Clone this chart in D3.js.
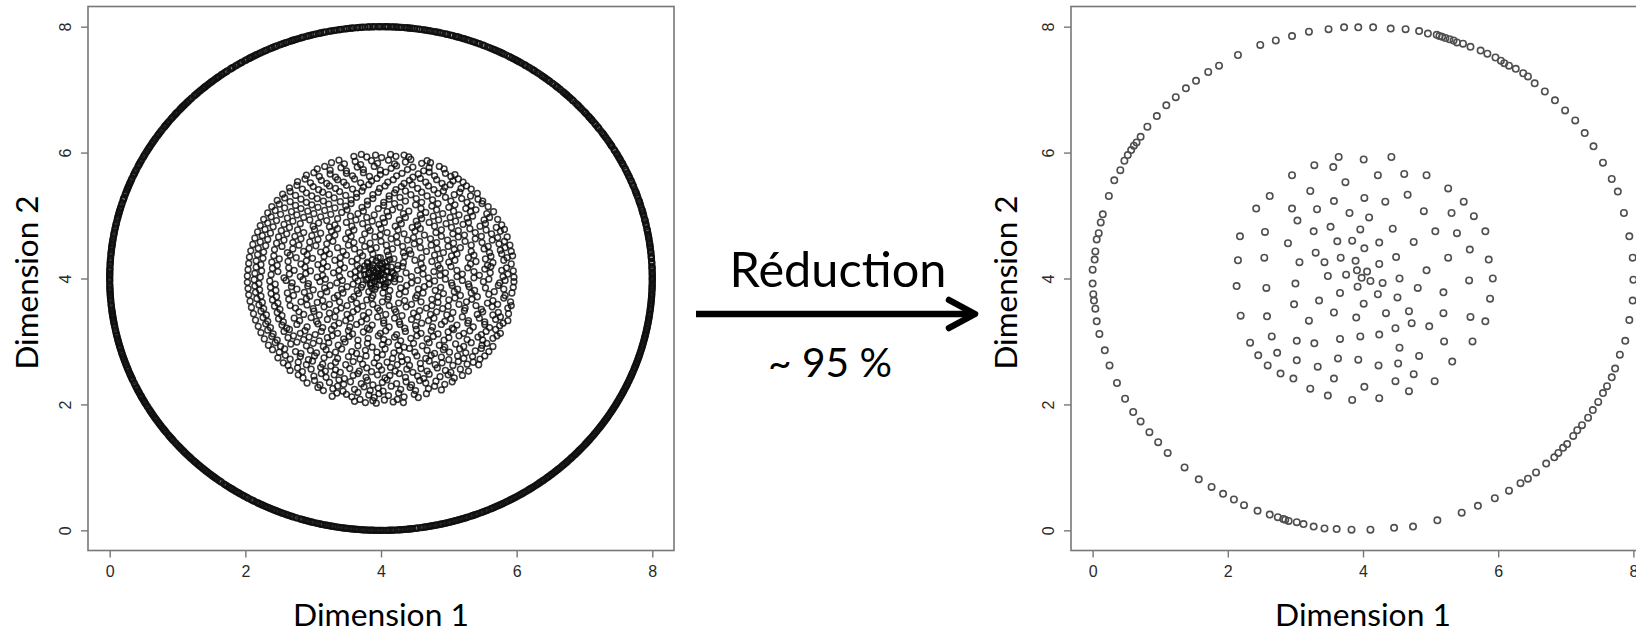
<!DOCTYPE html>
<html>
<head>
<meta charset="utf-8">
<script src="https://cdn.jsdelivr.net/npm/d3@7"></script>
<style>
  html, body { margin: 0; padding: 0; background: #fff; }
  svg { display: block; }
</style>
</head>
<body>
<svg id="chart" width="1636" height="633"></svg>
<script>
// ---- labels and ticks ----
const tickValues = [0, 2, 4, 6, 8];
const xTitle = "Dimension 1";
const yTitle = "Dimension 2";
const arrowLabel = "Réduction";
const rateLabel = "~ 95 %";

// ---- full sample, outer ring: angle (degrees) of each point on the circle ----
const ringCentre = [4, 4];
const ringRadius = 4;
const fullRingAngles = [
  0.2,0.6,1.5,2.3,2.7,3.6,4.5,4.9,5.8,6.3,7.4,8.0,8.4,9.5,
  10.1,10.9,11.3,12.4,13.2,13.6,14.7,15.3,15.8,16.9,17.6,18.0,19.1,19.8,
  20.3,21.4,21.9,22.8,23.5,24.1,25.2,25.7,26.5,27.4,27.9,28.9,29.6,
  30.4,30.9,32.0,32.6,33.1,34.2,34.9,35.4,36.5,37.0,37.8,38.7,39.2,
  40.1,41.0,41.5,42.4,43.2,43.7,44.8,45.3,46.1,47.0,47.6,48.5,49.3,49.8,
  50.7,51.5,52.0,53.1,53.6,54.5,55.4,55.9,56.8,57.6,58.1,59.0,59.7,
  60.5,61.2,61.8,62.9,63.5,64.1,65.2,65.8,66.5,67.5,68.0,68.9,69.7,
  70.3,71.2,71.9,72.5,73.6,74.1,74.9,75.8,76.3,77.3,78.0,78.6,79.5,
  80.2,80.8,81.9,82.4,83.2,84.1,84.7,85.6,86.3,86.9,87.9,88.4,89.2,
  90.1,90.6,91.6,92.3,92.8,93.9,94.5,95.1,96.1,96.7,97.4,98.4,98.9,99.8,
  100.5,101.1,102.1,102.8,103.3,104.3,105.0,105.6,106.6,107.1,107.9,108.9,109.4,
  110.3,111.0,111.6,112.6,113.2,113.9,114.8,115.4,116.3,117.0,117.6,118.6,119.1,119.9,
  120.8,121.3,122.2,123.0,123.5,124.5,125.1,125.9,126.8,127.3,128.3,128.9,129.6,
  130.5,131.0,132.0,132.7,133.3,134.2,134.9,135.5,136.5,137.0,137.9,138.7,139.2,
  140.2,140.8,141.6,142.5,143.0,144.0,144.7,145.3,146.2,146.9,147.5,148.5,149.1,149.8,
  150.7,151.3,152.2,152.9,153.4,154.4,155.1,155.7,156.6,157.3,157.9,158.9,159.5,
  160.3,161.2,161.7,162.6,163.4,164.0,164.9,165.6,166.2,167.2,167.8,168.5,169.4,
  170.0,170.9,171.6,172.1,173.1,173.8,174.4,175.4,176.0,176.7,177.6,178.2,179.1,179.8,
  180.4,181.3,182.0,182.6,183.6,184.2,184.9,185.8,186.4,187.2,188.1,188.6,189.6,
  190.2,190.9,191.8,192.5,193.1,194.1,194.7,195.4,196.3,197.0,197.6,198.6,199.2,199.9,
  200.8,201.4,202.2,203.1,203.6,204.5,205.3,205.9,206.8,207.5,208.0,209.0,209.6,
  210.4,211.2,211.8,212.7,213.4,214.0,215.0,215.6,216.3,217.2,217.8,218.6,219.5,
  220.1,221.0,221.7,222.3,223.3,223.9,224.6,225.5,226.2,226.8,227.8,228.4,229.1,
  230.0,230.7,231.4,232.3,232.9,233.7,234.6,235.2,235.9,236.8,237.5,238.1,239.1,239.7,
  240.4,241.3,241.9,242.7,243.6,244.2,244.9,245.8,246.5,247.1,248.0,248.7,249.4,
  250.3,250.9,251.7,252.6,253.2,253.9,254.8,255.4,256.2,257.1,257.7,258.4,259.3,259.9,
  260.8,261.5,262.1,263.0,263.7,264.3,265.2,265.9,266.5,267.5,268.1,268.8,269.7,
  270.3,271.1,272.0,272.6,273.4,274.3,274.9,275.6,276.5,277.2,277.8,278.7,279.4,
  280.1,281.0,281.6,282.4,283.3,283.9,284.6,285.6,286.2,286.9,287.8,288.4,289.2,
  290.1,290.7,291.5,292.4,293.0,293.8,294.7,295.3,296.0,296.9,297.6,298.3,299.2,299.8,
  300.6,301.5,302.1,302.9,303.8,304.4,305.1,306.0,306.7,307.4,308.3,308.9,309.6,
  310.5,311.1,311.9,312.8,313.4,314.1,315.0,315.7,316.4,317.3,317.9,318.7,319.6,
  320.2,320.9,321.8,322.5,323.2,324.1,324.7,325.4,326.3,327.0,327.7,328.6,329.2,329.9,
  330.8,331.5,332.2,333.1,333.7,334.4,335.3,336.0,336.7,337.6,338.2,339.0,339.9,
  340.5,341.2,342.1,342.8,343.5,344.4,345.0,345.8,346.7,347.3,348.0,348.9,349.6,
  350.3,351.2,351.8,352.6,353.5,354.2,354.9,355.8,356.4,357.2,358.1,358.7,359.5,
  0.0,0.9,1.2,1.9,2.5,3.3,3.9,4.7,5.2,6.0,6.8,7.1,7.8,8.9,9.2,9.8,
  10.5,11.1,11.9,12.7,13.4,14.2,15.0,15.6,16.3,17.2,17.8,18.6,19.4,
  20.0,20.8,21.6,22.3,22.9,23.8,24.5,24.8,25.9,26.9,27.2,28.2,28.6,29.3,29.9,
  30.6,31.6,31.8,32.3,33.4,33.9,34.6,35.2,35.9,36.8,37.5,38.2,39.0,39.6,39.9,
  40.6,41.2,41.9,42.8,43.4,44.2,45.0,45.8,46.5,46.8,47.3,47.9,48.8,49.5,
  50.2,50.9,51.7,52.4,52.8,53.4,54.0,54.9,55.7,56.3,57.2,57.9,58.7,59.4,59.9,
  60.2,60.9,61.6,62.3,63.2,63.8,64.5,64.9,65.5,66.2,67.0,67.8,68.6,69.3,
  70.0,70.8,71.5,72.2,72.9,73.3,73.9,74.6,75.3,76.0,76.8,77.6,78.3,79.0,79.8,
  80.5,81.2,81.7,82.8,83.5,83.9,84.4,85.0,85.9,86.6,87.3,87.6,88.7,89.0,89.7,
  90.4,91.2,91.9,92.6,93.4,94.2,94.9,95.8,96.4,97.1,97.9,98.7,99.4,
  100.1,100.8,101.7,102.4,103.0,103.8,104.6,105.3,106.0,106.9,107.5,108.3,108.6,109.1,109.8,
  110.6,111.3,112.0,112.9,113.6,114.3,115.1,115.8,116.6,117.3,117.9,118.3,118.9,119.5,
  120.2,121.0,121.7,122.5,123.2,123.8,124.7,125.4,126.1,126.6,127.0,127.6,128.0,128.6,129.2,129.9,
  130.3,130.7,131.3,131.7,132.4,133.0,133.6,134.5,135.2,135.8,136.2,136.8,137.3,137.6,138.4,139.0,139.5,139.9,
  140.5,141.3,141.9,142.2,142.8,143.5,144.3,145.0,145.7,146.5,147.2,147.8,148.2,148.8,149.5,
  150.3,151.0,151.8,152.5,153.1,153.8,154.7,155.4,156.0,156.9,157.6,158.3,158.6,159.2,159.9,
  160.6,161.4,162.0,162.9,163.7,164.3,164.6,165.2,165.9,166.6,167.5,168.2,168.9,169.7,
  170.4,171.2,171.9,172.5,172.7,173.4,174.1,174.8,175.7,176.3,177.0,177.9,178.5,178.9,179.4,
  180.1,180.7,181.6,182.3,182.9,183.3,183.9,184.5,185.2,186.1,186.8,187.5,187.8,188.3,188.9,189.3,189.9,
  190.5,191.2,192.0,192.8,193.4,193.8,194.4,195.0,195.7,196.0,196.7,197.3,198.0,198.3,198.9,199.5,
  200.1,200.5,201.1,201.8,202.5,202.8,203.4,203.9,204.8,205.6,206.2,206.5,207.1,207.8,208.3,208.7,209.3,209.9,
  210.7,211.5,212.1,212.4,213.0,213.7,214.3,214.7,215.3,215.9,216.6,216.9,217.5,218.3,218.9,219.2,219.8,
  220.6,221.4,222.0,222.6,223.0,223.6,224.3,224.9,225.2,225.8,226.5,227.1,227.5,228.1,228.8,229.4,229.7,
  230.3,231.1,231.7,232.0,232.6,233.3,234.0,234.9,235.5,236.2,236.5,237.1,237.8,238.4,238.7,239.4,
  240.0,240.7,241.6,242.2,243.0,243.3,243.9,244.6,245.2,245.5,246.1,246.8,247.4,247.7,248.4,249.0,249.7,
  250.0,250.6,251.2,252.0,252.9,253.5,254.2,254.5,255.1,255.7,256.5,256.9,257.4,258.1,258.7,259.0,259.6,
  260.1,260.5,261.2,261.8,262.4,262.7,263.4,264.0,264.6,264.9,265.6,266.2,266.8,267.2,267.8,268.4,269.1,269.4,269.9,
  270.6,271.4,271.7,272.3,272.9,273.7,274.0,274.6,275.3,275.9,276.2,276.8,277.5,278.4,279.1,279.7,
  280.4,280.7,281.3,281.9,282.7,283.0,283.6,284.3,284.9,285.3,285.9,286.5,287.2,287.5,288.1,288.7,289.5,289.8,
  290.4,291.0,291.8,292.1,292.7,293.3,294.1,294.4,295.0,295.7,296.3,296.6,297.3,297.9,298.6,298.9,299.5,
  300.2,300.9,301.2,301.8,302.5,303.2,303.5,304.1,304.8,305.4,305.7,306.4,307.0,307.7,308.0,308.6,309.2,309.9,
  310.2,310.8,311.5,312.2,312.5,313.1,313.7,314.4,314.7,315.4,316.0,316.7,317.0,317.6,318.3,319.0,319.3,319.9,
  320.5,321.2,321.5,322.1,322.8,323.5,323.8,324.4,325.0,325.7,326.0,326.6,327.3,328.0,328.3,328.9,329.6,
  330.2,330.5,331.1,331.8,332.5,332.8,333.4,334.1,334.7,335.0,335.6,336.3,337.0,337.3,337.9,338.6,339.3,339.6,
  340.2,340.8,341.5,341.8,342.4,343.1,343.8,344.1,344.7,345.4,346.1,346.4,347.0,347.6,348.3,348.6,349.2,349.9,
  350.6,350.9,351.5,352.1,352.9,353.2,353.8,354.5,355.2,355.5,356.1,356.7,357.5,357.8,358.4,359.1,359.8
];

// ---- full sample, inner disc: [dimension 1, dimension 2] ----
const fullDisc = [
  [3.61,2.05],[3.69,2.08],[3.77,2.03],[3.88,2.06],[3.93,2.02],[4.05,2.07],[4.18,2.04],[4.24,2.08],[4.33,2.03],
  [3.28,2.13],[3.35,2.18],[3.49,2.16],[3.57,2.12],[3.66,2.19],[3.82,2.15],[3.90,2.11],[3.97,2.17],[4.11,2.14],[4.26,2.18],[4.34,2.12],[4.49,2.16],[4.55,2.11],[4.67,2.17],
  [3.07,2.27],[3.15,2.22],[3.29,2.25],[3.36,2.29],[3.44,2.21],[3.61,2.24],[3.75,2.28],[3.84,2.22],[3.96,2.26],[4.03,2.21],[4.15,2.29],[4.29,2.24],[4.43,2.27],[4.51,2.22],[4.70,2.25],[4.79,2.29],[4.89,2.23],
  [2.91,2.34],[3.02,2.38],[3.10,2.31],[3.24,2.35],[3.38,2.39],[3.45,2.32],[3.55,2.36],[3.71,2.33],[3.80,2.38],[3.88,2.31],[4.02,2.35],[4.09,2.39],[4.23,2.33],[4.37,2.36],[4.45,2.31],[4.57,2.38],[4.66,2.34],[4.81,2.37],[4.94,2.32],[5.05,2.36],
  [2.78,2.47],[2.85,2.42],[3.01,2.45],[3.12,2.49],[3.19,2.43],[3.31,2.47],[3.46,2.41],[3.59,2.46],[3.66,2.49],[3.78,2.43],[3.95,2.47],[4.06,2.42],[4.13,2.46],[4.27,2.49],[4.36,2.43],[4.54,2.45],[4.63,2.41],[4.71,2.48],[4.87,2.44],[4.99,2.47],[5.08,2.42],[5.20,2.46],
  [2.66,2.54],[2.77,2.58],[2.84,2.52],[2.97,2.56],[3.11,2.59],[3.18,2.53],[3.33,2.55],[3.40,2.51],[3.54,2.57],[3.68,2.53],[3.79,2.58],[3.86,2.52],[4.01,2.55],[4.14,2.59],[4.21,2.53],[4.38,2.56],[4.47,2.51],[4.59,2.57],[4.68,2.53],[4.83,2.58],[4.95,2.54],[5.03,2.51],[5.17,2.56],[5.29,2.53],
  [2.56,2.66],[2.63,2.62],[2.78,2.67],[2.90,2.63],[2.99,2.69],[3.14,2.64],[3.26,2.61],[3.33,2.67],[3.48,2.63],[3.59,2.68],[3.73,2.64],[3.90,2.66],[3.97,2.61],[4.09,2.67],[4.24,2.63],[4.31,2.68],[4.42,2.62],[4.58,2.65],[4.71,2.69],[4.80,2.63],[4.90,2.66],[5.06,2.62],[5.14,2.68],[5.27,2.64],[5.36,2.67],[5.44,2.63],
  [2.48,2.74],[2.59,2.78],[2.66,2.72],[2.81,2.76],[2.93,2.71],[3.02,2.77],[3.16,2.74],[3.24,2.79],[3.36,2.73],[3.52,2.76],[3.69,2.72],[3.78,2.77],[3.94,2.74],[4.02,2.79],[4.17,2.73],[4.30,2.76],[4.39,2.71],[4.53,2.77],[4.66,2.73],[4.74,2.78],[4.89,2.75],[5.00,2.71],[5.13,2.77],[5.22,2.73],[5.35,2.76],[5.46,2.72],[5.53,2.77],
  [2.40,2.87],[2.50,2.83],[2.58,2.88],[2.74,2.84],[2.82,2.81],[2.96,2.86],[3.05,2.82],[3.19,2.87],[3.33,2.83],[3.42,2.88],[3.57,2.84],[3.64,2.81],[3.77,2.86],[3.94,2.83],[4.06,2.88],[4.19,2.82],[4.27,2.86],[4.42,2.89],[4.50,2.83],[4.68,2.86],[4.79,2.81],[4.92,2.87],[5.01,2.83],[5.16,2.88],[5.25,2.82],[5.39,2.85],[5.48,2.89],[5.59,2.84],
  [2.34,2.94],[2.44,2.98],[2.52,2.92],[2.67,2.96],[2.76,2.99],[2.90,2.93],[3.00,2.97],[3.15,2.92],[3.23,2.98],[3.37,2.94],[3.47,2.99],[3.66,2.93],[3.80,2.97],[3.87,2.91],[4.02,2.95],[4.11,2.99],[4.25,2.94],[4.34,2.91],[4.48,2.97],[4.61,2.93],[4.71,2.98],[4.86,2.94],[4.94,2.91],[5.10,2.96],[5.22,2.92],[5.33,2.98],[5.49,2.94],[5.56,2.97],[5.65,2.92],
  [2.28,3.04],[2.39,3.08],[2.47,3.02],[2.63,3.06],[2.71,3.09],[2.86,3.03],[2.94,3.07],[3.09,3.01],[3.21,3.06],[3.28,3.09],[3.45,3.04],[3.53,3.08],[3.66,3.02],[3.81,3.05],[3.96,3.09],[4.04,3.03],[4.20,3.07],[4.29,3.01],[4.44,3.05],[4.53,3.09],[4.68,3.04],[4.77,3.08],[4.93,3.02],[5.00,3.06],[5.15,3.09],[5.27,3.03],[5.43,3.07],[5.50,3.02],[5.65,3.05],[5.71,3.09],
  [2.23,3.14],[2.33,3.18],[2.41,3.12],[2.57,3.16],[2.65,3.19],[2.81,3.13],[2.88,3.17],[3.03,3.11],[3.12,3.16],[3.27,3.19],[3.36,3.13],[3.52,3.17],[3.58,3.12],[3.74,3.15],[3.83,3.19],[3.99,3.13],[4.07,3.17],[4.23,3.11],[4.36,3.16],[4.52,3.19],[4.59,3.13],[4.74,3.17],[4.84,3.12],[4.99,3.15],[5.07,3.19],[5.22,3.13],[5.31,3.17],[5.48,3.11],[5.55,3.16],[5.69,3.19],[5.76,3.13],
  [2.19,3.24],[2.30,3.28],[2.37,3.22],[2.54,3.26],[2.61,3.21],[2.76,3.27],[2.91,3.23],[3.07,3.28],[3.14,3.22],[3.31,3.25],[3.38,3.29],[3.54,3.23],[3.64,3.27],[3.80,3.21],[3.87,3.26],[4.04,3.29],[4.12,3.23],[4.28,3.27],[4.35,3.21],[4.51,3.25],[4.60,3.29],[4.76,3.23],[4.89,3.27],[5.05,3.21],[5.12,3.26],[5.28,3.29],[5.36,3.23],[5.53,3.27],[5.60,3.22],[5.75,3.25],[5.80,3.29],
  [2.15,3.34],[2.26,3.38],[2.33,3.32],[2.49,3.36],[2.56,3.31],[2.72,3.37],[2.80,3.33],[2.97,3.38],[3.05,3.32],[3.21,3.35],[3.32,3.39],[3.48,3.33],[3.55,3.37],[3.71,3.31],[3.79,3.36],[3.95,3.39],[4.04,3.33],[4.20,3.37],[4.27,3.31],[4.45,3.35],[4.54,3.39],[4.70,3.33],[4.78,3.37],[4.94,3.32],[5.03,3.36],[5.20,3.39],[5.29,3.33],[5.45,3.37],[5.53,3.31],[5.69,3.35],[5.76,3.39],[5.87,3.33],
  [2.12,3.44],[2.23,3.48],[2.31,3.42],[2.47,3.46],[2.54,3.41],[2.79,3.47],[2.86,3.43],[3.01,3.48],[3.09,3.42],[3.24,3.45],[3.34,3.49],[3.50,3.43],[3.59,3.47],[3.74,3.41],[3.82,3.46],[3.98,3.49],[4.07,3.43],[4.22,3.47],[4.31,3.41],[4.48,3.45],[4.57,3.49],[4.73,3.43],[4.82,3.47],[4.97,3.42],[5.06,3.46],[5.23,3.49],[5.42,3.43],[5.50,3.47],[5.65,3.42],[5.73,3.46],[5.88,3.44],
  [2.09,3.54],[2.20,3.58],[2.27,3.52],[2.43,3.56],[2.51,3.51],[2.66,3.57],[2.74,3.53],[2.91,3.58],[3.00,3.52],[3.16,3.55],[3.24,3.59],[3.41,3.53],[3.50,3.57],[3.65,3.51],[3.73,3.56],[3.88,3.59],[3.95,3.53],[4.12,3.57],[4.20,3.51],[4.37,3.55],[4.45,3.59],[4.67,3.53],[4.75,3.57],[4.91,3.52],[4.99,3.56],[5.15,3.59],[5.24,3.53],[5.40,3.57],[5.48,3.51],[5.64,3.55],[5.72,3.59],[5.87,3.53],[5.92,3.57],
  [2.07,3.64],[2.17,3.68],[2.25,3.62],[2.40,3.66],[2.48,3.61],[2.64,3.67],[2.82,3.63],[2.90,3.68],[3.06,3.62],[3.14,3.65],[3.31,3.69],[3.39,3.63],[3.56,3.67],[3.64,3.61],[3.79,3.66],[3.86,3.69],[4.02,3.63],[4.10,3.67],[4.26,3.61],[4.35,3.65],[4.51,3.69],[4.59,3.63],[4.75,3.67],[4.84,3.62],[5.00,3.66],[5.09,3.69],[5.26,3.63],[5.34,3.67],[5.57,3.61],[5.65,3.65],[5.81,3.69],[5.91,3.63],
  [2.05,3.74],[2.15,3.78],[2.23,3.72],[2.38,3.76],[2.46,3.71],[2.62,3.77],[2.71,3.73],[2.87,3.78],[2.95,3.72],[3.11,3.75],[3.20,3.79],[3.36,3.73],[3.44,3.77],[3.60,3.71],[3.67,3.76],[3.82,3.79],[3.88,3.73],[4.03,3.77],[4.11,3.71],[4.27,3.75],[4.36,3.79],[4.53,3.73],[4.62,3.77],[4.84,3.71],[4.92,3.76],[5.08,3.79],[5.17,3.73],[5.33,3.77],[5.42,3.71],[5.59,3.75],[5.67,3.79],[5.83,3.73],[5.93,3.77],
  [2.04,3.84],[2.14,3.88],[2.21,3.82],[2.37,3.86],[2.45,3.81],[2.68,3.87],[2.76,3.83],[2.92,3.88],[3.00,3.82],[3.17,3.85],[3.25,3.89],[3.42,3.83],[3.50,3.87],[3.65,3.81],[3.71,3.86],[3.85,3.89],[3.91,3.83],[4.06,3.87],[4.13,3.81],[4.29,3.85],[4.38,3.89],[4.55,3.83],[4.64,3.87],[4.80,3.81],[4.88,3.86],[5.05,3.89],[5.13,3.83],[5.30,3.87],[5.38,3.81],[5.54,3.85],[5.73,3.89],[5.81,3.83],[5.95,3.86],
  [2.03,3.94],[2.13,3.98],[2.20,3.92],[2.36,3.96],[2.44,3.91],[2.60,3.97],[2.69,3.93],[2.85,3.98],[2.93,3.92],[3.10,3.95],[3.18,3.99],[3.35,3.93],[3.43,3.97],[3.59,3.91],[3.66,3.96],[3.80,3.99],[3.86,3.93],[3.99,3.97],[4.05,3.91],[4.20,3.95],[4.28,3.99],[4.45,3.93],[4.54,3.97],[4.71,3.91],[4.79,3.96],[4.95,3.99],[5.04,3.93],[5.20,3.97],[5.29,3.91],[5.51,3.95],[5.59,3.99],[5.75,3.93],[5.83,3.97],[5.96,3.95],
  [2.03,4.04],[2.14,4.08],[2.22,4.02],[2.38,4.06],[2.57,4.01],[2.65,4.07],[2.81,4.03],[2.89,4.08],[3.06,4.02],[3.14,4.05],[3.30,4.09],[3.39,4.03],[3.55,4.07],[3.62,4.01],[3.76,4.06],[3.82,4.09],[3.95,4.03],[4.00,4.07],[4.14,4.01],[4.21,4.05],[4.37,4.09],[4.45,4.03],[4.62,4.07],[4.70,4.01],[4.87,4.05],[4.95,4.09],[5.12,4.03],[5.20,4.07],[5.37,4.01],[5.45,4.05],[5.61,4.09],[5.80,4.03],[5.87,4.07],[5.96,4.02],
  [2.04,4.14],[2.16,4.18],[2.24,4.12],[2.40,4.16],[2.48,4.11],[2.64,4.17],[2.72,4.13],[2.88,4.18],[2.96,4.12],[3.13,4.15],[3.21,4.19],[3.38,4.13],[3.46,4.17],[3.62,4.11],[3.69,4.16],[3.83,4.19],[3.89,4.13],[4.03,4.17],[4.09,4.11],[4.24,4.15],[4.32,4.19],[4.54,4.13],[4.62,4.17],[4.78,4.11],[4.87,4.16],[5.03,4.19],[5.12,4.13],[5.28,4.17],[5.37,4.11],[5.53,4.15],[5.62,4.19],[5.78,4.13],[5.85,4.17],[5.95,4.12],
  [2.05,4.24],[2.16,4.28],[2.23,4.22],[2.39,4.26],[2.47,4.21],[2.63,4.27],[2.82,4.23],[2.90,4.28],[3.07,4.22],[3.15,4.25],[3.32,4.29],[3.40,4.23],[3.57,4.27],[3.65,4.21],[3.80,4.26],[3.87,4.29],[4.02,4.23],[4.09,4.27],[4.25,4.21],[4.33,4.25],[4.50,4.29],[4.59,4.23],[4.75,4.27],[4.84,4.21],[5.00,4.26],[5.09,4.29],[5.32,4.23],[5.40,4.27],[5.57,4.21],[5.65,4.25],[5.81,4.29],[5.92,4.23],
  [2.06,4.34],[2.18,4.38],[2.26,4.32],[2.42,4.36],[2.50,4.31],[2.66,4.37],[2.75,4.33],[2.91,4.38],[2.99,4.32],[3.16,4.35],[3.24,4.39],[3.40,4.33],[3.49,4.37],[3.65,4.31],[3.73,4.36],[3.88,4.39],[3.96,4.33],[4.11,4.37],[4.19,4.31],[4.35,4.35],[4.44,4.39],[4.60,4.33],[4.79,4.37],[4.87,4.31],[5.04,4.36],[5.12,4.39],[5.29,4.33],[5.37,4.37],[5.54,4.31],[5.62,4.35],[5.78,4.39],[5.86,4.33],[5.94,4.36],
  [2.08,4.44],[2.19,4.48],[2.27,4.42],[2.43,4.46],[2.62,4.41],[2.70,4.47],[2.86,4.43],[2.94,4.48],[3.11,4.42],[3.19,4.45],[3.36,4.49],[3.44,4.43],[3.61,4.47],[3.69,4.41],[3.85,4.46],[3.93,4.49],[4.09,4.43],[4.17,4.47],[4.33,4.41],[4.42,4.45],[4.58,4.49],[4.67,4.43],[4.83,4.47],[4.92,4.41],[5.08,4.46],[5.17,4.49],[5.33,4.43],[5.52,4.47],[5.60,4.41],[5.76,4.45],[5.83,4.49],[5.92,4.43],
  [2.11,4.54],[2.22,4.58],[2.30,4.52],[2.46,4.56],[2.54,4.51],[2.70,4.57],[2.79,4.53],[2.95,4.58],[3.04,4.52],[3.20,4.55],[3.29,4.59],[3.52,4.53],[3.60,4.57],[3.76,4.51],[3.84,4.56],[4.00,4.59],[4.08,4.53],[4.24,4.57],[4.32,4.51],[4.49,4.55],[4.57,4.59],[4.74,4.53],[4.82,4.57],[4.99,4.51],[5.07,4.56],[5.24,4.59],[5.33,4.53],[5.49,4.57],[5.58,4.51],[5.74,4.55],[5.82,4.59],[5.90,4.53],
  [2.14,4.64],[2.25,4.68],[2.33,4.62],[2.49,4.66],[2.57,4.61],[2.73,4.67],[2.82,4.63],[2.98,4.68],[3.07,4.62],[3.23,4.65],[3.32,4.69],[3.48,4.63],[3.56,4.67],[3.72,4.61],[3.91,4.66],[3.99,4.69],[4.15,4.63],[4.23,4.67],[4.39,4.61],[4.48,4.65],[4.64,4.69],[4.73,4.63],[4.89,4.67],[4.98,4.61],[5.14,4.66],[5.23,4.69],[5.39,4.63],[5.48,4.67],[5.64,4.61],[5.72,4.65],[5.86,4.66],
  [2.18,4.74],[2.29,4.78],[2.37,4.72],[2.53,4.76],[2.61,4.71],[2.77,4.77],[2.86,4.73],[3.02,4.78],[3.11,4.72],[3.27,4.75],[3.36,4.79],[3.52,4.73],[3.60,4.77],[3.76,4.71],[3.84,4.76],[4.00,4.79],[4.09,4.73],[4.25,4.77],[4.34,4.71],[4.50,4.75],[4.58,4.79],[4.81,4.73],[4.89,4.77],[5.06,4.71],[5.14,4.76],[5.31,4.79],[5.39,4.73],[5.55,4.77],[5.63,4.71],[5.76,4.75],[5.82,4.78],
  [2.22,4.84],[2.33,4.88],[2.41,4.82],[2.57,4.86],[2.65,4.81],[2.81,4.87],[3.00,4.83],[3.08,4.88],[3.24,4.82],[3.32,4.85],[3.49,4.89],[3.57,4.83],[3.73,4.87],[3.81,4.81],[3.97,4.86],[4.05,4.89],[4.21,4.83],[4.30,4.87],[4.46,4.81],[4.54,4.85],[4.71,4.89],[4.79,4.83],[4.96,4.87],[5.04,4.81],[5.21,4.86],[5.29,4.89],[5.46,4.83],[5.54,4.87],[5.70,4.81],[5.78,4.85],
  [2.27,4.94],[2.38,4.98],[2.46,4.92],[2.62,4.96],[2.70,4.91],[2.86,4.97],[2.95,4.93],[3.11,4.98],[3.20,4.92],[3.36,4.95],[3.55,4.99],[3.63,4.93],[3.79,4.97],[3.87,4.91],[4.03,4.96],[4.11,4.99],[4.27,4.93],[4.36,4.97],[4.52,4.91],[4.60,4.95],[4.77,4.99],[4.85,4.93],[5.02,4.97],[5.10,4.91],[5.27,4.96],[5.35,4.99],[5.52,4.93],[5.60,4.97],[5.72,4.94],
  [2.33,5.04],[2.44,5.08],[2.52,5.02],[2.68,5.06],[2.76,5.01],[2.92,5.07],[3.01,5.03],[3.17,5.08],[3.26,5.02],[3.42,5.05],[3.50,5.09],[3.66,5.03],[3.74,5.07],[3.90,5.01],[4.09,5.06],[4.17,5.09],[4.33,5.03],[4.41,5.07],[4.58,5.01],[4.66,5.05],[4.82,5.09],[4.91,5.03],[5.07,5.07],[5.15,5.01],[5.32,5.06],[5.40,5.09],[5.56,5.03],[5.66,5.06],
  [2.39,5.14],[2.50,5.18],[2.58,5.12],[2.74,5.16],[2.82,5.11],[2.98,5.17],[3.07,5.13],[3.23,5.18],[3.32,5.12],[3.48,5.15],[3.56,5.19],[3.72,5.13],[3.80,5.17],[3.96,5.11],[4.04,5.16],[4.20,5.19],[4.28,5.13],[4.51,5.17],[4.59,5.11],[4.75,5.15],[4.84,5.19],[5.00,5.13],[5.09,5.17],[5.25,5.11],[5.33,5.16],[5.49,5.19],[5.58,5.14],
  [2.47,5.24],[2.58,5.28],[2.66,5.22],[2.82,5.26],[2.90,5.21],[3.06,5.27],[3.15,5.23],[3.31,5.28],[3.40,5.22],[3.56,5.25],[3.64,5.29],[3.80,5.23],[3.88,5.27],[4.04,5.21],[4.12,5.26],[4.28,5.29],[4.36,5.23],[4.52,5.27],[4.60,5.21],[4.76,5.25],[4.95,5.29],[5.03,5.23],[5.19,5.27],[5.27,5.21],[5.43,5.26],[5.50,5.23],
  [2.55,5.34],[2.66,5.38],[2.74,5.32],[2.90,5.36],[2.98,5.31],[3.14,5.37],[3.23,5.33],[3.39,5.38],[3.48,5.32],[3.64,5.35],[3.72,5.39],[3.88,5.33],[3.96,5.37],[4.12,5.31],[4.20,5.36],[4.36,5.39],[4.44,5.33],[4.60,5.37],[4.68,5.31],[4.84,5.35],[4.92,5.39],[5.08,5.33],[5.16,5.37],[5.32,5.31],[5.42,5.35],
  [2.65,5.44],[2.76,5.48],[2.84,5.42],[3.00,5.46],[3.08,5.41],[3.24,5.47],[3.33,5.43],[3.49,5.48],[3.58,5.42],[3.74,5.45],[3.82,5.49],[3.98,5.43],[4.06,5.47],[4.22,5.41],[4.30,5.46],[4.46,5.49],[4.54,5.43],[4.70,5.47],[4.78,5.41],[4.94,5.45],[5.02,5.49],[5.18,5.43],[5.26,5.47],[5.33,5.42],
  [2.77,5.54],[2.88,5.58],[2.96,5.52],[3.12,5.56],[3.20,5.51],[3.36,5.57],[3.45,5.53],[3.61,5.58],[3.70,5.52],[3.86,5.55],[3.94,5.59],[4.10,5.53],[4.18,5.57],[4.34,5.51],[4.42,5.56],[4.58,5.59],[4.66,5.53],[4.82,5.57],[4.90,5.51],[5.06,5.55],[5.14,5.58],[5.21,5.53],
  [2.90,5.64],[3.01,5.68],[3.09,5.62],[3.25,5.66],[3.33,5.61],[3.49,5.67],[3.58,5.63],[3.74,5.68],[3.83,5.62],[3.99,5.65],[4.07,5.69],[4.23,5.63],[4.31,5.67],[4.47,5.61],[4.55,5.66],[4.71,5.69],[4.79,5.63],[4.95,5.67],[5.03,5.62],[5.09,5.65],
  [3.06,5.74],[3.17,5.78],[3.25,5.72],[3.41,5.76],[3.49,5.71],[3.65,5.77],[3.74,5.73],[3.90,5.78],[3.99,5.72],[4.15,5.75],[4.23,5.79],[4.39,5.73],[4.47,5.77],[4.63,5.71],[4.71,5.76],[4.86,5.78],[4.93,5.74],
  [3.27,5.84],[3.38,5.88],[3.46,5.82],[3.62,5.86],[3.70,5.81],[3.86,5.87],[3.95,5.83],[4.11,5.88],[4.20,5.82],[4.36,5.85],[4.44,5.89],[4.60,5.83],[4.68,5.87],[4.73,5.84],
  [3.60,5.94],[3.71,5.97],[3.79,5.93],[3.92,5.96],[4.01,5.92],[4.14,5.97],[4.22,5.94],[4.34,5.96],[4.41,5.93],
  [3.86,4.02],[3.92,4.10],[3.98,4.04],[4.03,3.98],[3.90,3.95],[3.95,4.16],[4.08,4.12],[3.82,4.08],[4.00,4.20],[3.88,4.22],
  [4.12,4.02],[3.78,3.98],[3.97,3.90],[4.06,4.25],[3.84,3.92],[3.93,4.28],[4.15,4.18],[3.75,4.14],[4.01,4.09],[3.89,4.01],
  [3.96,4.13],[4.10,3.94],[3.80,4.24],[4.05,3.86],[3.70,4.05],[3.99,4.33],[4.18,4.08],[3.87,3.84],[3.73,3.90],[4.13,4.30],
  [3.91,4.04],[4.04,4.06],[3.94,3.99],[3.85,4.13],[4.09,4.19],[3.98,4.22],[3.81,4.01],[4.16,4.11],[3.92,3.87],[4.07,3.92],
  [3.76,4.20],[4.02,4.15],[3.87,4.17],[4.20,4.00],[3.95,4.07]
];

// ---- reduced sample (about 5 % of the points kept) ----
const reducedRing = [
  [0.00,3.92],[0.00,4.14],[0.03,4.30],[0.04,4.43],[0.06,4.62],[0.09,4.72],[0.12,4.89],[0.15,5.02],[0.24,5.31],[0.32,5.56],
  [0.41,5.72],[0.47,5.87],[0.52,5.96],[0.57,6.04],[0.61,6.11],[0.65,6.16],[0.71,6.25],[0.81,6.41],[0.95,6.58],[1.09,6.75],
  [1.23,6.88],[1.38,7.02],[1.53,7.14],[1.71,7.28],[1.87,7.38],[2.15,7.55],[2.48,7.71],[2.71,7.78],[2.95,7.85],[3.20,7.92],
  [3.49,7.96],[3.72,7.99],[3.93,7.99],[4.15,7.99],[4.41,7.97],[4.63,7.96],[4.83,7.93],[4.96,7.89],[5.09,7.87],[5.13,7.85],
  [5.17,7.84],[5.22,7.82],[5.28,7.80],[5.34,7.78],[5.39,7.75],[5.48,7.73],[5.59,7.68],[5.74,7.62],[5.84,7.57],[5.96,7.51],
  [6.04,7.46],[6.09,7.42],[6.16,7.38],[6.26,7.33],[6.37,7.26],[6.44,7.21],[6.54,7.10],[6.69,6.97],[6.84,6.83],[6.99,6.67],
  [7.14,6.51],[7.28,6.31],[7.41,6.10],[7.55,5.84],[7.68,5.58],[7.77,5.38],[7.86,5.04],[7.94,4.67],[7.99,4.33],[8.00,3.98],
  [7.99,3.65],[7.94,3.34],[7.88,3.01],[7.80,2.79],[7.73,2.57],[7.68,2.43],[7.61,2.29],[7.55,2.18],[7.48,2.04],[7.40,1.91],
  [7.33,1.79],[7.24,1.67],[7.17,1.59],[7.11,1.50],[7.02,1.37],[6.96,1.31],[6.89,1.23],[6.83,1.16],[6.71,1.06],[6.56,0.92],
  [6.44,0.82],[6.33,0.75],[6.16,0.63],[5.95,0.51],[5.70,0.39],[5.46,0.28],[5.10,0.16],[4.74,0.06],[4.46,0.04],[4.11,0.01],
  [3.83,0.01],[3.61,0.02],[3.43,0.03],[3.27,0.06],[3.12,0.10],[3.02,0.13],[2.90,0.15],[2.85,0.17],[2.82,0.18],[2.74,0.21],
  [2.62,0.25],[2.44,0.31],[2.24,0.40],[2.09,0.49],[1.93,0.58],[1.76,0.69],[1.57,0.81],[1.36,1.00],[1.11,1.23],[0.97,1.40],
  [0.84,1.56],[0.71,1.73],[0.60,1.88],[0.48,2.09],[0.36,2.34],[0.25,2.62],[0.18,2.86],[0.10,3.12],[0.06,3.32],[0.04,3.52],
  [0.02,3.65],[0.01,3.75]
];

const reducedDisc = [
  [3.64,5.93],[4.01,5.89],[4.42,5.93],[3.28,5.80],[3.56,5.77],[2.95,5.64],[4.22,5.64],[4.61,5.66],[4.94,5.64],[3.74,5.53],
  [5.26,5.43],[3.22,5.39],[2.62,5.31],[4.66,5.33],[3.57,5.23],[4.02,5.28],[4.33,5.22],[5.49,5.22],[2.42,5.11],[2.95,5.11],
  [3.32,5.10],[3.80,5.04],[4.09,4.97],[4.90,5.07],[5.31,5.04],[5.64,4.99],[3.03,4.92],[3.52,4.82],[3.96,4.78],[4.44,4.79],
  [2.18,4.67],[2.55,4.74],[3.27,4.75],[5.07,4.75],[5.39,4.72],[5.81,4.75],[2.89,4.56],[3.62,4.59],[3.84,4.60],[4.24,4.57],
  [4.75,4.58],[4.02,4.48],[3.30,4.41],[5.58,4.46],[2.15,4.29],[2.54,4.33],[3.06,4.26],[3.43,4.26],[3.67,4.33],[3.89,4.28],
  [4.24,4.23],[4.49,4.34],[5.26,4.33],[5.86,4.30],[3.91,4.13],[4.06,4.11],[4.94,4.13],[3.48,4.04],[3.75,4.06],[3.98,4.01],
  [4.11,3.96],[4.29,3.93],[4.54,4.00],[2.13,3.88],[2.57,3.85],[3.00,3.92],[3.92,3.87],[4.81,3.85],[5.57,3.97],[5.92,4.00],
  [3.66,3.77],[4.22,3.75],[4.51,3.70],[5.19,3.78],[5.88,3.68],[2.98,3.59],[3.35,3.65],[4.01,3.60],[2.19,3.41],[2.58,3.40],
  [3.20,3.33],[3.57,3.46],[3.90,3.38],[4.34,3.45],[4.68,3.48],[5.19,3.45],[5.59,3.39],[5.81,3.32],[4.72,3.29],[4.98,3.24],
  [4.48,3.21],[2.65,3.08],[3.02,3.01],[3.28,2.97],[3.66,3.04],[3.96,3.08],[4.24,3.11],[2.33,2.98],[5.20,3.00],[5.62,3.00],
  [4.54,2.90],[2.45,2.78],[2.73,2.82],[4.83,2.77],[3.02,2.70],[3.63,2.73],[3.93,2.71],[4.23,2.62],[4.52,2.65],[5.32,2.68],
  [2.59,2.62],[3.33,2.60],[2.78,2.49],[4.75,2.48],[2.97,2.41],[3.57,2.41],[4.48,2.37],[5.06,2.37],[3.22,2.25],[4.02,2.28],
  [4.68,2.21],[3.48,2.14],[3.84,2.07],[4.24,2.10]
];

// ---- drawing ----
const svg = d3.select("#chart");
const titleFont = "Lato, 'Open Sans', sans-serif";
const tickFont = "'Liberation Sans', Arial, sans-serif";
const plotTop = 6.5, plotBottom = 550.5;
const domain = [-0.32, 8.32];

const toRad = Math.PI / 180;
const fullRing = fullRingAngles.map(a => [
  ringCentre[0] + ringRadius * Math.cos(a * toRad),
  ringCentre[1] + ringRadius * Math.sin(a * toRad)
]);

const panels = [
  { left: 88, right: 674, points: fullRing.concat(fullDisc), r: 2.9, stroke: "#0d0d0d", width: 1.5, opacity: 0.82, yTitleX: 38 },
  { left: 1071, right: 1655, points: reducedRing.concat(reducedDisc), r: 3.2, stroke: "#4f4f4f", width: 1.6, opacity: 1, yTitleX: 1017 }
];

function fitWidth(sel, target) {
  const w = sel.node().getComputedTextLength();
  const fs = parseFloat(sel.attr("font-size"));
  sel.attr("font-size", (fs * target / w).toFixed(2));
}

panels.forEach(p => {
  const x = d3.scaleLinear().domain(domain).range([p.left, p.right]);
  const y = d3.scaleLinear().domain(domain).range([plotBottom, plotTop]);
  const g = svg.append("g");

  g.append("g")
    .selectAll("circle")
    .data(p.points)
    .join("circle")
    .attr("cx", d => x(d[0]))
    .attr("cy", d => y(d[1]))
    .attr("r", p.r)
    .attr("fill", "none")
    .attr("stroke", p.stroke)
    .attr("stroke-width", p.width)
    .attr("stroke-opacity", p.opacity);

  g.append("rect")
    .attr("x", p.left).attr("y", plotTop)
    .attr("width", p.right - p.left).attr("height", plotBottom - plotTop)
    .attr("fill", "none").attr("stroke", "#777").attr("stroke-width", 1.6);

  const xAxis = g.append("g")
    .attr("transform", `translate(0,${plotBottom})`)
    .call(d3.axisBottom(x).tickValues(tickValues).tickSize(7).tickPadding(8).tickFormat(d3.format("d")));
  const yAxis = g.append("g")
    .attr("transform", `translate(${p.left},0)`)
    .call(d3.axisLeft(y).tickValues(tickValues).tickSize(7).tickFormat(d3.format("d")));

  [xAxis, yAxis].forEach(a => {
    a.select(".domain").remove();
    a.selectAll(".tick line").attr("stroke", "#777").attr("stroke-width", 1.4);
    a.selectAll(".tick text")
      .attr("fill", "#2a2a2a")
      .attr("font-family", tickFont)
      .attr("font-size", 16);
  });
  yAxis.selectAll(".tick text")
    .attr("x", 0)
    .attr("dy", "0.35em")
    .attr("text-anchor", "middle")
    .attr("transform", "translate(-23,0) rotate(-90)");

  const xt = g.append("text")
    .attr("x", x(4)).attr("y", 626)
    .attr("text-anchor", "middle")
    .attr("font-family", titleFont).attr("font-size", 31)
    .attr("fill", "#000")
    .text(xTitle);
  fitWidth(xt, 176);

  const yt = g.append("text")
    .attr("transform", `translate(${p.yTitleX},${y(4) + 4}) rotate(-90)`)
    .attr("text-anchor", "middle")
    .attr("font-family", titleFont).attr("font-size", 31)
    .attr("fill", "#000")
    .text(yTitle);
  fitWidth(yt, 174);
});

// reduction arrow between the panels
const mid = svg.append("g");
mid.append("line")
  .attr("x1", 696).attr("y1", 314).attr("x2", 972).attr("y2", 314)
  .attr("stroke", "#000").attr("stroke-width", 6.5);
mid.append("polyline")
  .attr("points", "949,300 975,314 949,328")
  .attr("fill", "none").attr("stroke", "#000").attr("stroke-width", 6.5)
  .attr("stroke-linejoin", "round").attr("stroke-linecap", "round");

const t1 = mid.append("text")
  .attr("x", 838).attr("y", 287)
  .attr("text-anchor", "middle")
  .attr("font-family", titleFont).attr("font-size", 46)
  .attr("fill", "#000")
  .text(arrowLabel);
fitWidth(t1, 217);

const t2 = mid.append("text")
  .attr("x", 830).attr("y", 377)
  .attr("text-anchor", "middle")
  .attr("font-family", titleFont).attr("font-size", 38)
  .attr("fill", "#000")
  .text(rateLabel);
fitWidth(t2, 124);
</script>
</body>
</html>
